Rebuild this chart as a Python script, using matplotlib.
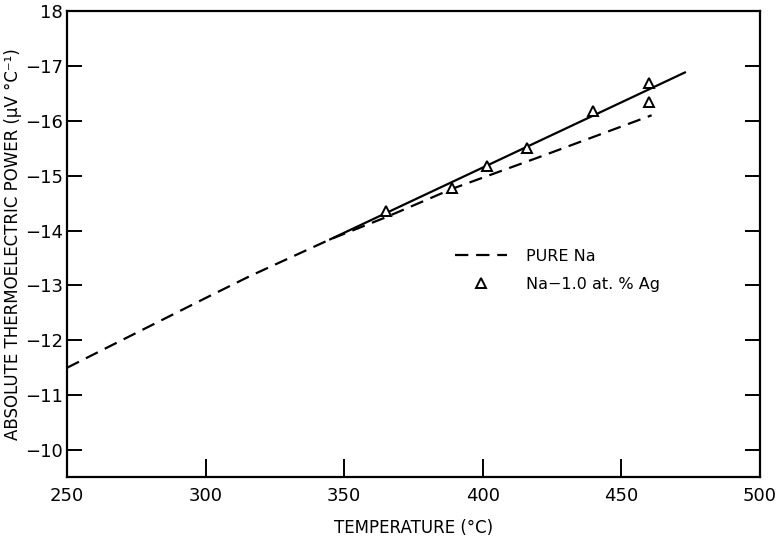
import numpy as np
import matplotlib.pyplot as plt

# pure Na curve (dashed)
na_temp = [250, 300, 316, 345, 365, 389, 420, 461]
na_tep = [-11.50, -12.77, -13.17, -13.84, -14.24, -14.76, -15.33, -16.10]

# Na - 1.0 at.% Ag fit line (solid)
fit_temp = [345, 473]
fit_tep = [-13.84, -16.88]

# Na - 1.0 at.% Ag measured points
ag_temp = [365, 389, 401.5, 416, 440, 460, 460]
ag_tep = [-14.35, -14.77, -15.18, -15.51, -16.18, -16.69, -16.35]

xticks = [250, 300, 350, 400, 450, 500]
yticks = [-18, -17, -16, -15, -14, -13, -12, -11, -10]
ytick_labels = ['18', '\u221217', '\u221216', '\u221215', '\u221214',
                '\u221213', '\u221212', '\u221211', '\u221210']

fig = plt.figure(figsize=(7.84, 5.38), dpi=100)
ax = fig.add_axes([0.0855, 0.1134, 0.8835, 0.8662])

ax.plot(na_temp, na_tep, color='black', lw=1.6, dashes=(6, 3.5), label='PURE Na')
ax.plot(fit_temp, fit_tep, color='black', lw=1.6)
ax.plot(ag_temp, ag_tep, ls='none', marker='^', ms=7, mfc='white', mec='black',
        mew=1.4, label='Na\u22121.0 at. % Ag')

ax.set_xlim(250, 500)
ax.set_ylim(-9.51, -18)
ax.set_xticks(xticks)
ax.set_yticks(yticks)
ax.set_yticklabels(ytick_labels)

ax.tick_params(axis='both', direction='in', length=11, width=1.4, labelsize=13)
ax.tick_params(axis='x', pad=7, length=13)
ax.tick_params(axis='y', pad=3, right=True)
for s in ax.spines.values():
    s.set_linewidth(1.6)

ax.set_xlabel('TEMPERATURE (\u00b0C)', fontsize=12, labelpad=10)
ax.set_ylabel('ABSOLUTE THERMOELECTRIC POWER (\u03bcV \u00b0C\u207b\u00b9)', fontsize=12, labelpad=2)

ax.legend(loc='upper left', bbox_to_anchor=(0.54, 0.52), frameon=False,
          fontsize=11.5, handlelength=3.2, handletextpad=1.2, labelspacing=0.8)

fig.savefig('out.png', dpi=100)
